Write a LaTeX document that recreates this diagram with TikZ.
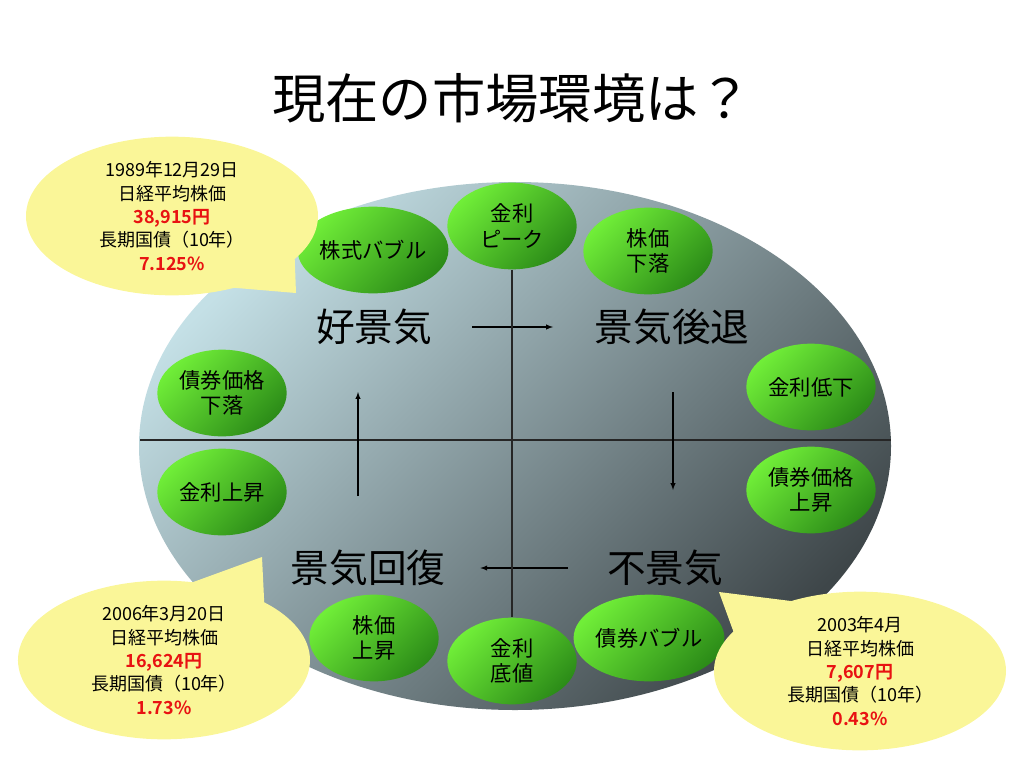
\documentclass[tikz,border=0pt]{standalone}
\usepackage{fontspec}
\setmainfont{Noto Sans CJK JP}[BoldFont={Noto Sans CJK JP Bold}]
\usepackage{tikz}
\usetikzlibrary{shapes.geometric, shapes.callouts, arrows}
\usepackage{xcolor}
\definecolor{skyblue}{RGB}{196,224,230}
\definecolor{slategrey}{RGB}{62,70,73}
\definecolor{limegreen}{RGB}{112,238,56}
\definecolor{leafgreen}{RGB}{44,140,24}
\definecolor{memoyellow}{RGB}{250,246,152}
\definecolor{pricered}{RGB}{232,18,18}
\tikzset{
    phase/.style={font=\fontsize{29}{34}\selectfont, inner sep=0pt},
    bubble/.style={ellipse, minimum width=97pt, minimum height=65pt, inner sep=0pt,
        top color=limegreen, bottom color=leafgreen, shading angle=45,
        align=center, font=\fontsize{16}{19}\selectfont},
    memo/.style={ellipse callout, fill=memoyellow, minimum width=219pt, minimum height=119pt,
        inner sep=0pt, callout pointer arc=32, align=center, font=\fontsize{13.5}{17.5}\selectfont},
    axis/.style={draw=black!85, line width=0.9pt},
    flow/.style={-latex, line width=0.8pt}
}
\newcommand{\price}[1]{{\color{pricered}\bfseries #1}}

\begin{document}
\begin{tikzpicture}[x=0.75pt, y=-0.75pt]
    \useasboundingbox (0,0) rectangle (1024,768);
    \node (title) at (512,98) {\fontsize{40}{48}\selectfont 現在の市場環境は？};

    \shade[top color=skyblue, bottom color=slategrey, shading angle=45]
        (515,446) ellipse [x radius=376, y radius=264];

    \coordinate (axisw) at (140,440);
    \coordinate (axise) at (891,440);
    \draw[axis] (axisw) -- (axise);

    \node[phase] (boom) at (374,327) {好景気};
    \node[phase] (recess) at (672,327) {景気後退};
    \node[phase] (slump) at (665,568) {不景気};
    \node[phase] (recover) at (368,568) {景気回復};

    \draw[flow, shorten <=30pt, shorten >=31pt] (boom) -- (recess);
    \draw[flow, shorten <=29pt, shorten >=26pt] (slump) -- (recover);
    \coordinate (upfrom) at (358,496);
    \coordinate (upto) at (358,392);
    \coordinate (downfrom) at (673,392);
    \coordinate (downto) at (673,490);
    \draw[flow] (upfrom) -- (upto);
    \draw[flow] (downfrom) -- (downto);

    \node[bubble] (peak) at (512,226) {金利\\ピーク};
    \node[bubble] (stockbubble) at (373,250) {株式バブル};
    \node[bubble] (stockdown) at (648,251) {株価\\下落};
    \node[bubble] (ratedown) at (811,387) {金利低下};
    \node[bubble] (bondup) at (811,490) {債券価格\\上昇};
    \node[bubble] (bondbubble) at (649,638) {債券バブル};
    \node[bubble] (floor) at (512,661) {金利\\底値};
    \node[bubble] (stockup) at (374,638) {株価\\上昇};
    \node[bubble] (rateup) at (222,492) {金利上昇};
    \node[bubble] (bonddown) at (222,393) {債券価格\\下落};

    \draw[axis] (peak) -- (floor);

    \node[memo, callout absolute pointer={(296,293)}] (memo89) at (172,216)
        {1989年12月29日\\日経平均株価\\\price{38,915円}\\長期国債（10年）\\\price{7.125\%}};
    \node[memo, callout absolute pointer={(262,557)}] (memo06) at (164,660)
        {2006年3月20日\\日経平均株価\\\price{16,624円}\\長期国債（10年）\\\price{1.73\%}};
    \node[memo, callout absolute pointer={(719,592)}] (memo03) at (860,671)
        {2003年4月\\日経平均株価\\\price{7,607円}\\長期国債（10年）\\\price{0.43\%}};
\end{tikzpicture}
\end{document}
